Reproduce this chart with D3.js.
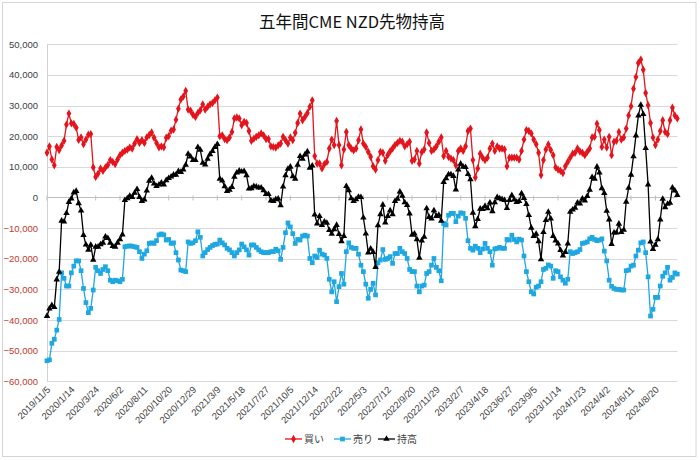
<!DOCTYPE html>
<html><head><meta charset="utf-8">
<script src="https://cdn.jsdelivr.net/npm/d3@7/dist/d3.min.js"></script>
<style>body{margin:0;background:#fff}svg{display:block}</style>
</head><body><svg id="c" width="700" height="460"></svg>
<script>
const tickLabels = ["2019/11/5","2020/1/14","2020/3/24","2020/6/2","2020/8/11","2020/10/20","2020/12/29","2021/3/9","2021/5/18","2021/7/27","2021/10/5","2021/12/14","2022/2/22","2022/5/3","2022/7/12","2022/9/20","2022/11/29","2023/2/7","2023/4/18","2023/6/27","2023/9/5","2023/11/14","2024/1/23","2024/4/2","2024/6/11","2024/8/20"];
const yTicks = [50000,40000,30000,20000,10000,0,-10000,-20000,-30000,-40000,-50000,-60000];
const seriesNames = ["買い","売り","持高"];

const buy = [14600,16700,12400,10500,16500,15500,17000,18500,23800,27400,
24200,24000,22800,18800,19600,17400,18900,20500,20700,9800,
6700,7800,9500,8700,9800,10600,12200,11600,10900,12400,
13800,14600,15200,15600,16300,16000,17600,19000,17800,18700,
17800,19600,20400,21200,19500,17800,16400,16700,16400,19500,
20000,21800,22200,25400,29000,32000,33000,34800,28700,28300,
27000,26300,27600,28500,30400,28700,29600,30400,30800,31700,
32600,20000,20300,19100,18700,19600,21400,25800,26100,25800,
23600,24700,24300,21700,18500,19200,19800,20300,20900,20300,
19100,19100,16700,16500,16300,17000,17600,19800,18700,17600,
19600,18700,21100,24300,27400,25200,26300,27600,29600,31700,
13500,11100,11100,9500,10900,11600,16000,18900,17100,25000,
17100,10500,15700,21400,17100,16000,15400,16000,18700,22200,
17600,16500,14900,13300,10200,9100,12200,14900,14600,12000,
13800,15100,16000,17100,17800,18500,18200,16700,17400,18200,
12000,12400,15200,11100,14800,15700,21200,17800,15200,15700,
16700,18200,19600,13500,15200,13300,12700,12200,10500,15200,
16000,15200,16700,21700,22500,12200,6500,9500,14300,13000,
12200,13000,16000,17600,15200,16700,16000,16000,15700,10200,
13000,13000,13000,13000,12400,15200,18900,22000,21700,20900,
18900,17400,14600,7300,12200,15700,17300,15500,13800,9800,
9100,8700,8000,10200,11600,13000,14300,14600,16000,15000,
14600,13800,14900,16000,19600,19800,24100,22000,16500,18900,
16300,19800,13800,18200,18500,21400,18900,19600,22500,26800,
29800,35500,39300,43900,45000,41700,34100,30100,24300,19600,
17100,18900,21700,25200,21400,20700,25200,29300,26800,25800];

const sell = [-53300,-53000,-47600,-46300,-43300,-39800,-24600,-26400,-28900,-28900,
-24600,-22400,-20700,-20700,-23900,-29700,-34300,-37600,-36200,-30200,
-22800,-23900,-24800,-23500,-22600,-23900,-27000,-27500,-27000,-27200,
-27500,-26700,-16100,-15900,-15800,-15900,-16100,-16300,-17700,-19900,
-18500,-17400,-15000,-14800,-15000,-14100,-12200,-11900,-12200,-13900,
-13700,-15000,-14800,-18000,-20400,-23700,-23900,-24200,-14500,-15000,
-14800,-14100,-11200,-13000,-19100,-18000,-17000,-16300,-15700,-15300,
-15200,-13900,-14800,-15500,-16600,-17100,-18000,-19100,-18000,-17100,
-15200,-16100,-17100,-18800,-15500,-15500,-16300,-17100,-17700,-18000,
-18000,-18000,-17700,-17700,-16900,-17400,-20200,-16300,-11500,-8300,
-9600,-11800,-15000,-13700,-13900,-12600,-12300,-12600,-19900,-21300,
-19100,-19600,-17200,-18500,-18800,-19900,-26700,-30800,-27500,-34000,
-29100,-24800,-28300,-17700,-14800,-16300,-16600,-16600,-18500,-22100,
-24200,-28300,-32900,-30000,-28000,-31800,-21300,-20400,-17000,-20200,
-19900,-19300,-21500,-18300,-18300,-16600,-17700,-18300,-19900,-23500,
-24200,-24200,-28900,-30800,-28900,-28600,-24800,-24200,-22100,-19900,
-22800,-23900,-27200,-8500,-9000,-5800,-5200,-5200,-7900,-6100,
-5000,-5200,-6800,-14100,-16600,-17200,-15900,-16600,-18000,-16800,
-15000,-16600,-17700,-22100,-16800,-16600,-16300,-16600,-16600,-13700,
-13900,-12300,-13700,-14500,-13600,-13900,-19100,-24200,-27500,-30800,
-31500,-29300,-28900,-27500,-23500,-23100,-22000,-22400,-26400,-23900,
-24200,-25900,-27000,-28000,-26700,-17700,-18300,-18000,-17700,-17000,
-15000,-14800,-14500,-13500,-13000,-13700,-14100,-13900,-13500,-17500,
-20700,-27000,-29000,-29700,-30000,-30000,-30200,-30200,-23900,-23700,
-22400,-22100,-19100,-17200,-14800,-14500,-18000,-25900,-38700,-36500,
-32600,-32600,-28900,-25700,-24600,-22800,-27000,-26100,-24600,-25000];

const net = [-38700,-36300,-35200,-35800,-26800,-24300,-7600,-7900,-5100,-1500,
-400,1600,2100,-1900,-4300,-12300,-15400,-17100,-15500,-20400,
-16100,-16100,-15300,-14800,-12800,-13300,-14800,-15900,-16100,-14800,
-13700,-12100,-900,-300,500,100,1500,2700,100,-1200,
-700,2200,5400,6400,4500,3700,4200,4800,4200,5600,
6300,6800,7400,7400,8600,8300,9100,10600,14200,13300,
12200,12200,16400,15500,11300,10700,12600,14100,15100,16400,
17400,6100,5500,3600,2100,2500,3400,6700,8100,8700,
8400,8600,7200,2900,3000,3700,3500,3200,3200,2300,
1100,1100,-1000,-1200,-600,-400,-2600,3500,7200,9300,
10000,6900,6100,10600,13500,12600,14000,15000,9700,10400,
-5600,-8500,-6100,-9000,-7900,-8300,-10700,-11900,-10400,-9000,
-12000,-14300,-12600,3700,2300,-300,-1200,-600,200,100,
-6600,-11800,-18000,-16700,-17800,-22700,-9100,-5500,-2400,-8200,
-6100,-4200,-5500,-1200,-500,1900,500,-1600,-2500,-5300,
-12200,-11800,-13700,-19700,-14100,-12900,-3600,-6400,-6900,-4200,
-6100,-5700,-7600,5000,6200,7500,7500,7000,2600,9100,
11000,10000,9900,7600,5900,-5000,-9400,-7100,-3700,-3800,
-2800,-3600,-1700,-4500,-1600,100,-300,-600,-900,-3500,
-900,700,-700,-1500,-1200,1300,-200,-2200,-5800,-9900,
-12600,-11900,-14300,-20200,-11300,-7400,-4700,-6900,-12600,-14100,
-15100,-17200,-19000,-17800,-15100,-4700,-4000,-3400,-1700,-2000,
-400,-1000,400,2500,6600,6100,10000,8100,3000,1400,
-4400,-7200,-15200,-11500,-11500,-8600,-11300,-10600,-1400,3100,
7400,13400,20200,26700,30200,27200,16100,4200,-14400,-16900,
-15500,-13700,-7200,-500,-3200,-2100,-1800,3200,2200,800];

const series = [
  {name: seriesNames[0], values: buy, color: "#e3141c", symbol: d3.symbolDiamond, size: 20},
  {name: seriesNames[1], values: sell, color: "#1ea7e0", symbol: d3.symbolSquare, size: 22},
  {name: seriesNames[2], values: net, color: "#000000", symbol: d3.symbolTriangle, size: 18}
];

const svg = d3.select("#c");
const L = 47, R = 677.3, T = 44.3, B = 381.3;
const x = d3.scaleLinear().domain([0, buy.length - 1]).range([L, R]);
const y = d3.scaleLinear().domain([-60000, 50000]).range([B, T]);

// outer frame
svg.append("rect").attr("x", 2.5).attr("y", 2.5).attr("width", 693.5).attr("height", 454)
  .attr("fill", "#fff").attr("stroke", "#d4d4d4").attr("stroke-width", 1);

// title
svg.append("text").attr("x", 352).attr("y", 28).attr("text-anchor", "middle")
  .attr("font-family", "'Noto Sans CJK JP', sans-serif").attr("font-size", 16.5)
  .attr("fill", "#111").text("五年間CME NZD先物持高");

// gridlines
svg.append("g").selectAll("line").data(yTicks).join("line")
  .attr("x1", L).attr("x2", R)
  .attr("y1", d => Math.round(y(d)) + 0.5).attr("y2", d => Math.round(y(d)) + 0.5)
  .attr("stroke", d => d === 0 ? "#bfbfbf" : "#d9d9d9").attr("stroke-width", 1);

// left axis line
svg.append("line").attr("x1", L + 0.5).attr("x2", L + 0.5).attr("y1", T).attr("y2", B)
  .attr("stroke", "#d0d0d0");

// y labels
const yAxis = d3.axisLeft(y).tickValues(yTicks).tickSize(0).tickPadding(9)
  .tickFormat(d3.format(","));
const gy = svg.append("g").attr("transform", `translate(${L},0)`).call(yAxis);
gy.select(".domain").remove();
gy.selectAll("text").attr("font-family", "'Liberation Sans', Arial, sans-serif")
  .attr("font-size", 9.5).attr("fill", d => d < 0 ? "#c0392b" : "#404040");

// category ticks on zero line
const tickIdx = tickLabels.map((t, k) => k * 10);
const y0 = Math.round(y(0)) + 0.5;
svg.append("g").selectAll("line").data(tickIdx).join("line")
  .attr("x1", d => x(d)).attr("x2", d => x(d)).attr("y1", y0 - 2).attr("y2", y0 + 3)
  .attr("stroke", "#bfbfbf");

// x labels at bottom, rotated
svg.append("g").selectAll("text").data(tickLabels).join("text")
  .attr("transform", (d, k) => `translate(${x(k * 10) + 4},${B + 9}) rotate(-45)`)
  .attr("text-anchor", "end")
  .attr("font-family", "'Liberation Sans', Arial, sans-serif").attr("font-size", 9.5)
  .attr("fill", "#404040").text(d => d);

// series
const line = d3.line().x((d, i) => x(i)).y(d => y(d));
series.forEach(s => {
  const g = svg.append("g");
  g.append("path").datum(s.values).attr("d", line).attr("fill", "none")
    .attr("stroke", s.color).attr("stroke-width", 1.3);
  g.selectAll("path.m").data(s.values).join("path").attr("class", "m")
    .attr("transform", (d, i) => `translate(${x(i)},${y(d)})`)
    .attr("d", d3.symbol().type(s.symbol).size(s.size)).attr("fill", s.color);
});

// legend
const legX = [285, 334, 378];
const legY = 439;
series.forEach((s, k) => {
  const g = svg.append("g").attr("transform", `translate(${legX[k]},${legY})`);
  g.append("line").attr("x1", 0).attr("x2", 17).attr("y1", 0).attr("y2", 0)
    .attr("stroke", s.color).attr("stroke-width", 1.3);
  g.append("path").attr("transform", "translate(8.5,0)")
    .attr("d", d3.symbol().type(s.symbol).size(s.size)).attr("fill", s.color);
  g.append("text").attr("x", 19).attr("y", 4).attr("font-family", "'Noto Sans CJK JP', sans-serif")
    .attr("font-size", 10).attr("fill", "#404040").text(s.name);
});
</script></body></html>
